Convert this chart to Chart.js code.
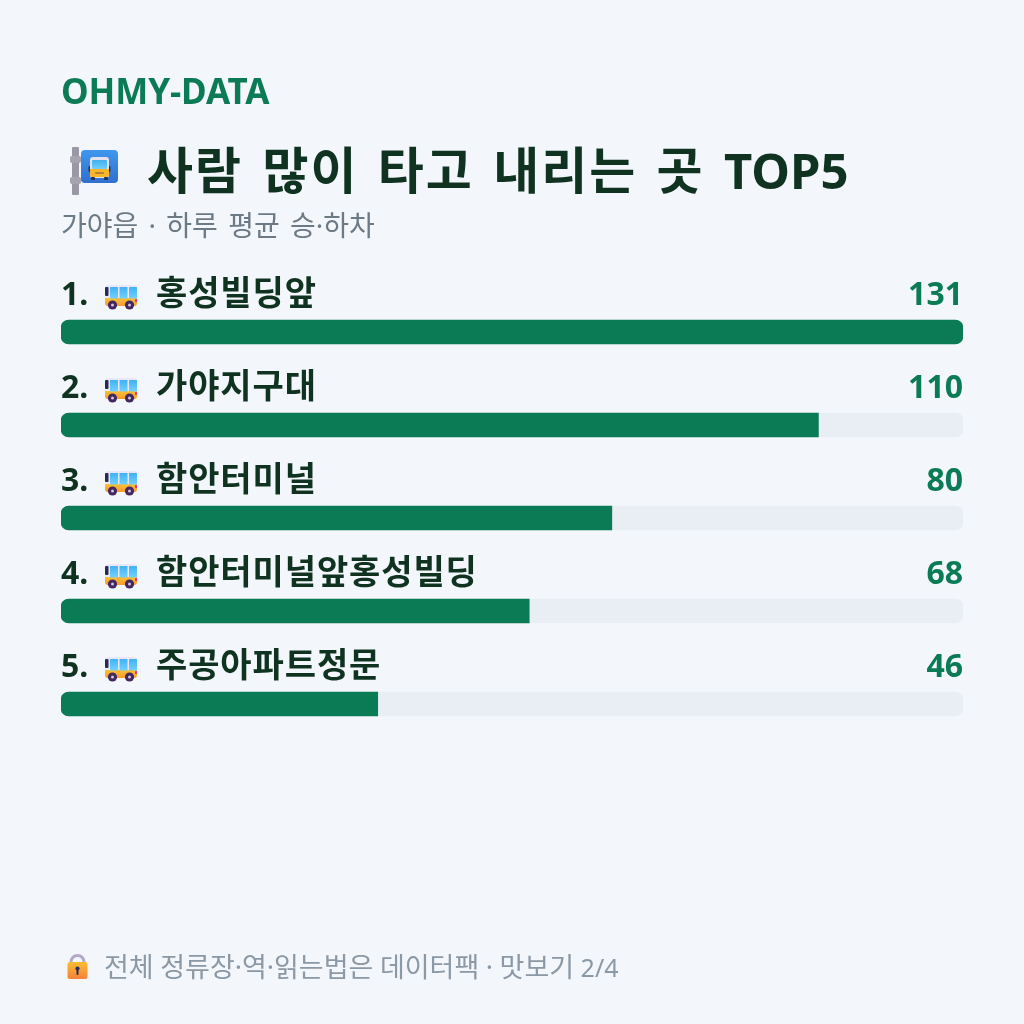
<!DOCTYPE html>
<html lang="ko">
<head>
<meta charset="utf-8">
<title>OHMY-DATA</title>
<style>
html, body { margin: 0; padding: 0; background: #f3f6fb; }
#wrap { position: relative; width: 1024px; height: 1024px; overflow: hidden; font-family: "Noto Sans", "Noto Sans CJK KR", sans-serif; }
#board { position: absolute; left: 0; top: 0; }
.txt { position: absolute; white-space: pre; line-height: 1; }
#brand { left: 61px; top: 73px; font-size: 35px; font-weight: 700; color: #0a7b55; letter-spacing: -0.1px; }
#title { left: 147px; top: 145px; font-size: 50px; font-weight: 700; color: #0f3320; letter-spacing: 2px; word-spacing: 4.4px; }
#title span { font-size: 49px; letter-spacing: 0; }
#sub { left: 61px; top: 211px; font-size: 28px; color: #6c7a85; word-spacing: 3px; }
#foot { left: 104px; top: 953px; font-size: 27px; color: #8b98a5; word-spacing: -0.5px; }
#foot span { font-size: 25px; }
</style>
</head>
<body>
<div id="wrap">
  <canvas id="board" width="1024" height="1024"></canvas>
  <div class="txt" id="brand">OHMY-DATA</div>
  <div class="txt" id="title">사람 많이 타고 내리는 곳 <span>TOP5</span></div>
  <div class="txt" id="sub">가야읍 · 하루 평균 승·하차</div>
  <div class="txt" id="foot">전체 정류장·역·읽는법은 데이터팩 · 맛보기 <span>2/4</span></div>
</div>
<script src="https://cdn.jsdelivr.net/npm/chart.js@4"></script>
<script>
var stops = ["홍성빌딩앞", "가야지구대", "함안터미널", "함안터미널앞홍성빌딩", "주공아파트정문"];
var riders = [131, 110, 80, 68, 46];
var trackMax = 131;
var track = stops.map(function () { return trackMax; });

var green = "#0a7b55";
var ink = "#0f3320";

function rrect(ctx, x, y, w, h, r, fill) {
  ctx.beginPath();
  ctx.roundRect(x, y, w, h, r);
  ctx.fillStyle = fill;
  ctx.fill();
}

function vgrad(ctx, y0, y1, a, b) {
  var g = ctx.createLinearGradient(0, y0, 0, y1);
  g.addColorStop(0, a);
  g.addColorStop(1, b);
  return g;
}

// small side-view bus, x/y is its top left corner
function drawBus(ctx, x, y) {
  rrect(ctx, x, y, 32, 21, 2.5, "#ece6fa");
  rrect(ctx, x, y + 13, 32, 8, [0, 0, 3, 3], vgrad(ctx, y + 13, y + 21, "#fbc034", "#f79a2e"));
  rrect(ctx, x, y + 2, 3.5, 9, 1, "#2b2a55");
  [5, 14.5, 24].forEach(function (dx) {
    rrect(ctx, x + dx, y + 2, 8, 11.5, 0.5, vgrad(ctx, y + 2, y + 13, "#3fb2f5", "#6fd0fb"));
  });
  rrect(ctx, x + 30, y + 14, 2, 3, 0.5, "#e8308a");
  [7.5, 24.5].forEach(function (dx) {
    ctx.beginPath();
    ctx.arc(x + dx, y + 20, 4.6, 0, Math.PI * 2);
    ctx.fillStyle = "#43285f";
    ctx.fill();
    ctx.beginPath();
    ctx.arc(x + dx, y + 20, 1.5, 0, Math.PI * 2);
    ctx.fillStyle = "#cfc4e0";
    ctx.fill();
  });
}

// bus stop sign beside the heading
function drawStopSign(ctx) {
  rrect(ctx, 72, 147, 7, 48, 1, "#9a98a4");
  rrect(ctx, 70, 156, 11, 7, 2, "#a5a3ae");
  rrect(ctx, 70, 177, 11, 7, 2, "#a5a3ae");
  rrect(ctx, 81, 150, 37, 33, 4, vgrad(ctx, 150, 183, "#3f97ee", "#2f6fd0"));
  rrect(ctx, 88.5, 166, 2.5, 6, 1, "#27344f");
  rrect(ctx, 108, 166, 2.5, 6, 1, "#27344f");
  rrect(ctx, 90, 157, 19, 21, 3, "#e3e0ef");
  rrect(ctx, 92, 160, 15, 9, 1, vgrad(ctx, 160, 169, "#3fb0f0", "#72d0fa"));
  rrect(ctx, 90, 169, 19, 8, [0, 0, 2, 2], "#f8b52c");
  rrect(ctx, 95, 172, 9, 2, 1, "#b5812a");
  rrect(ctx, 91, 177, 4, 3, 1, "#27344f");
  rrect(ctx, 104, 177, 4, 3, 1, "#27344f");
}

// padlock in front of the footnote
function drawLock(ctx) {
  ctx.beginPath();
  ctx.arc(77.5, 962, 6.5, Math.PI, 0);
  ctx.lineTo(84, 966);
  ctx.moveTo(71, 966);
  ctx.lineTo(71, 962);
  ctx.strokeStyle = "#b3a9c4";
  ctx.lineWidth = 3;
  ctx.stroke();
  rrect(ctx, 67.5, 962, 20, 17, 2.5, vgrad(ctx, 962, 979, "#fbbd30", "#f5813a"));
  ctx.beginPath();
  ctx.arc(77.5, 968.5, 2.1, 0, Math.PI * 2);
  ctx.fillStyle = "#2f2a5c";
  ctx.fill();
  rrect(ctx, 76.5, 969, 2, 6, 0.8, "#2f2a5c");
}

// row captions above each bar, positioned from the chart's own scales
var rowLabels = {
  id: "rowLabels",
  afterDatasetsDraw: function (chart) {
    var ctx = chart.ctx;
    var y = chart.scales.y;
    var left = chart.chartArea.left;
    var right = chart.chartArea.right;
    ctx.save();
    ctx.textBaseline = "alphabetic";
    drawStopSign(ctx);
    drawLock(ctx);
    stops.forEach(function (name, i) {
      var base = y.getPixelForValue(i) - 27;
      drawBus(ctx, left + 44, base - 20);
      ctx.fillStyle = ink;
      ctx.textAlign = "left";
      ctx.font = "700 32px 'Noto Sans', 'Noto Sans CJK KR'";
      ctx.letterSpacing = "0px";
      ctx.fillText((i + 1) + ".", left, base);
      ctx.font = "700 34px 'Noto Sans CJK KR'";
      ctx.letterSpacing = "0.9px";
      ctx.fillText(name, left + 95, base);
      ctx.fillStyle = green;
      ctx.textAlign = "right";
      ctx.font = "700 32px 'Noto Sans', 'Noto Sans CJK KR'";
      ctx.letterSpacing = "0px";
      ctx.fillText(String(riders[i]), right, base);
    });
    ctx.restore();
  }
};

new Chart("board", {
  type: "bar",
  plugins: [rowLabels],
  data: {
    labels: stops,
    datasets: [
      {
        label: "승·하차",
        data: riders,
        backgroundColor: green,
        barThickness: 24,
        grouped: false,
        order: 1,
        borderSkipped: false,
        borderRadius: function (c) {
          var full = c.raw >= trackMax;
          return { topLeft: 8, bottomLeft: 8, topRight: full ? 8 : 0, bottomRight: full ? 8 : 0 };
        }
      },
      {
        label: "track",
        data: track,
        backgroundColor: "#e9edf4",
        barThickness: 24,
        grouped: false,
        order: 2,
        borderSkipped: false,
        borderRadius: 8
      }
    ]
  },
  options: {
    indexAxis: "y",
    responsive: false,
    animation: false,
    layout: { padding: { left: 61, right: 61, top: 285.5, bottom: 273.5 } },
    plugins: { legend: { display: false }, title: { display: false }, tooltip: { enabled: false } },
    scales: {
      x: { display: false, min: 0, max: trackMax },
      y: { display: false }
    }
  }
});
</script>
</body>
</html>
